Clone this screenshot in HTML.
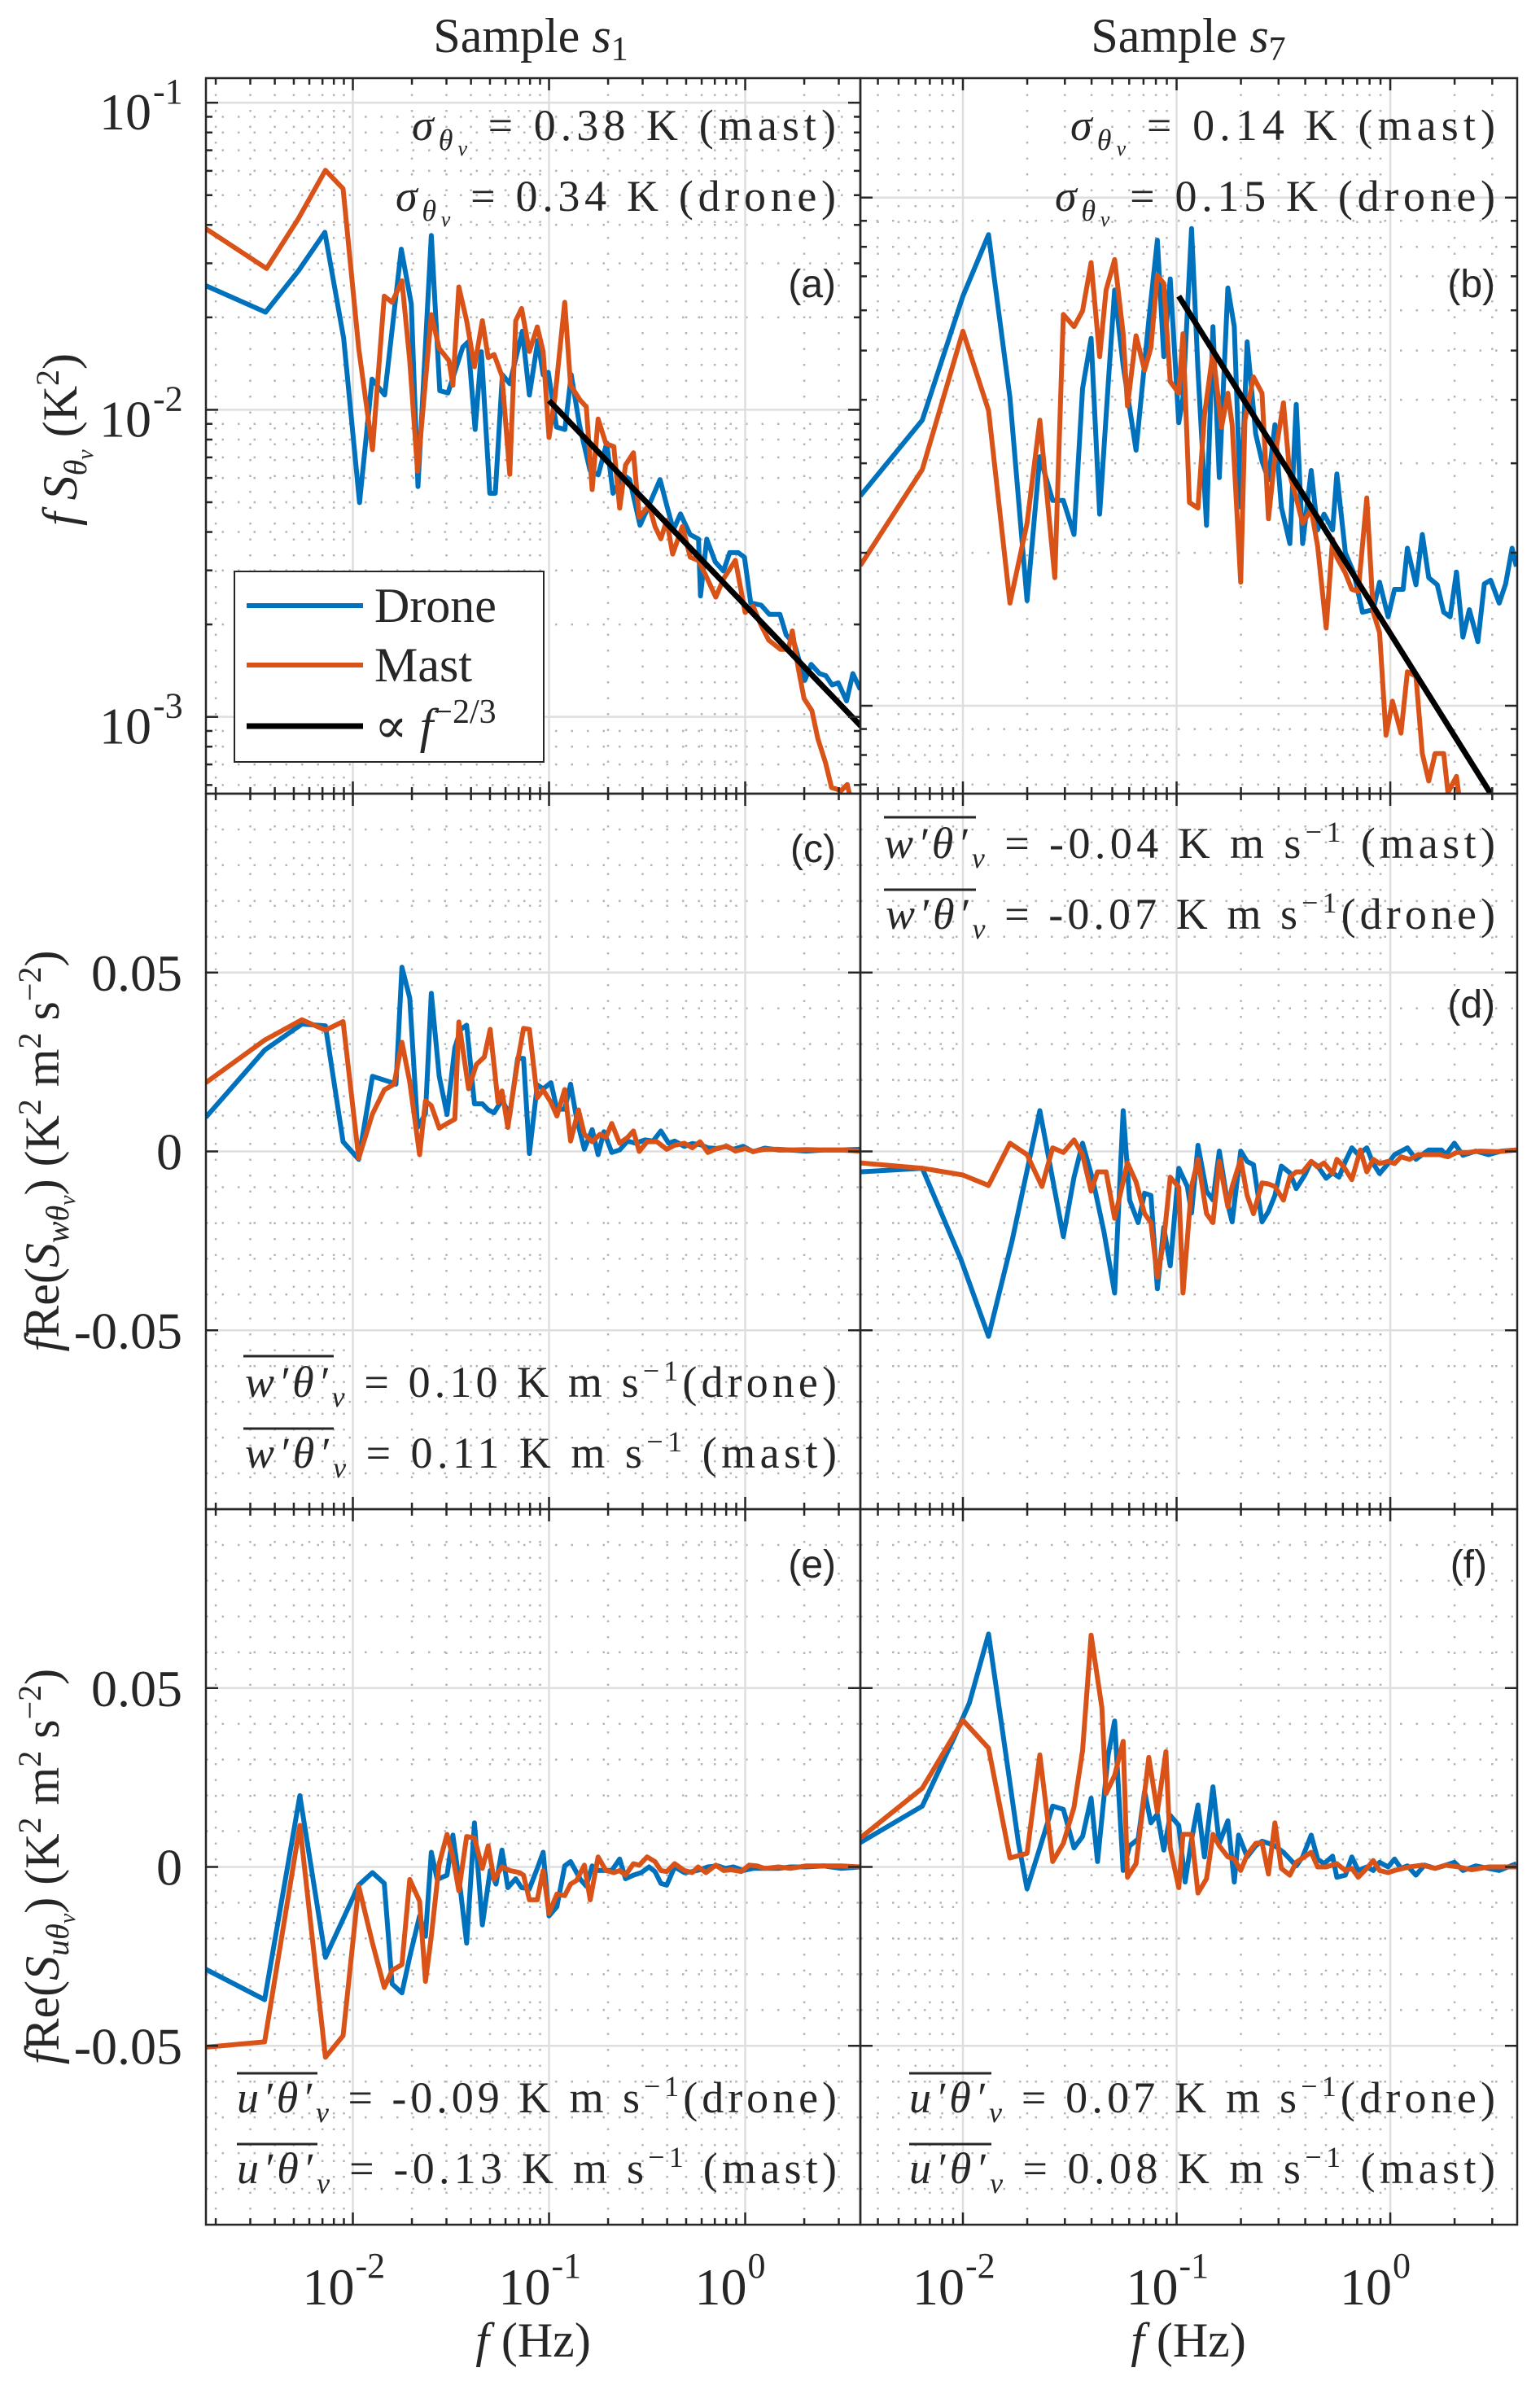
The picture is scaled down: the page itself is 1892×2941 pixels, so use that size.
<!DOCTYPE html>
<html><head><meta charset="utf-8"><style>
html,body{margin:0;padding:0;background:#fff}
svg{display:block}
text{font-family:"Liberation Serif","DejaVu Serif",serif;fill:#262626}
.sans{font-family:"Liberation Sans","DejaVu Sans",sans-serif}
</style></head><body>
<svg id="fig" width="1892" height="2941" viewBox="0 0 1892 2941" xmlns="http://www.w3.org/2000/svg">
<rect x="0" y="0" width="1892" height="2941" fill="#fff"/>
<g id="grids"></g><g id="series"></g><g id="frames"></g><g id="labels"></g>
<text x="652" y="64" font-size="60" text-anchor="middle">Sample <tspan font-style="italic">s</tspan><tspan font-size="42" dy="10">1</tspan></text>
<text x="1460" y="64" font-size="60" text-anchor="middle">Sample <tspan font-style="italic">s</tspan><tspan font-size="42" dy="10">7</tspan></text>
<text transform="translate(94,540) rotate(-90)" font-size="60" text-anchor="middle"><tspan font-style="italic">f S</tspan><tspan font-size="40" font-style="italic" dy="12">θ</tspan><tspan font-size="28" font-style="italic" dy="8">v</tspan><tspan dy="-20">  (K</tspan><tspan font-size="40" dy="-22">2</tspan><tspan dy="22">)</tspan></text>
<text transform="translate(72,1414) rotate(-90)" font-size="60" text-anchor="middle"><tspan font-style="italic">f</tspan>Re(<tspan font-style="italic">S</tspan><tspan font-size="40" font-style="italic" dy="12">wθ</tspan><tspan font-size="28" font-style="italic" dy="8">v</tspan><tspan dy="-20">)  (K</tspan><tspan font-size="40" dy="-22">2</tspan><tspan dy="22"> m</tspan><tspan font-size="40" dy="-22">2</tspan><tspan dy="22"> s</tspan><tspan font-size="40" dy="-22">−2</tspan><tspan dy="22">)</tspan></text>
<text transform="translate(72,2293) rotate(-90)" font-size="60" text-anchor="middle"><tspan font-style="italic">f</tspan>Re(<tspan font-style="italic">S</tspan><tspan font-size="40" font-style="italic" dy="12">uθ</tspan><tspan font-size="28" font-style="italic" dy="8">v</tspan><tspan dy="-20">)  (K</tspan><tspan font-size="40" dy="-22">2</tspan><tspan dy="22"> m</tspan><tspan font-size="40" dy="-22">2</tspan><tspan dy="22"> s</tspan><tspan font-size="40" dy="-22">−2</tspan><tspan dy="22">)</tspan></text>
<text x="655" y="2895" font-size="60" text-anchor="middle"><tspan font-style="italic">f</tspan>  (Hz)</text>
<text x="1460" y="2895" font-size="60" text-anchor="middle"><tspan font-style="italic">f</tspan>  (Hz)</text>

<text x="506" y="172" font-size="54" textLength="521" lengthAdjust="spacing"><tspan font-style="italic">σ</tspan><tspan font-size="36" font-style="italic" dy="12">θ</tspan><tspan font-size="26" font-style="italic" dy="7">v</tspan><tspan dy="-19"> = 0.38 K (mast)</tspan></text>
<text x="486" y="259" font-size="54" textLength="541" lengthAdjust="spacing"><tspan font-style="italic">σ</tspan><tspan font-size="36" font-style="italic" dy="12">θ</tspan><tspan font-size="26" font-style="italic" dy="7">v</tspan><tspan dy="-19"> = 0.34 K (drone)</tspan></text>
<text class="sans" x="1027" y="365" font-size="48" text-anchor="end">(a)</text>
<text x="1315" y="172" font-size="54" textLength="522" lengthAdjust="spacing"><tspan font-style="italic">σ</tspan><tspan font-size="36" font-style="italic" dy="12">θ</tspan><tspan font-size="26" font-style="italic" dy="7">v</tspan><tspan dy="-19"> = 0.14 K (mast)</tspan></text>
<text x="1296" y="259" font-size="54" textLength="541" lengthAdjust="spacing"><tspan font-style="italic">σ</tspan><tspan font-size="36" font-style="italic" dy="12">θ</tspan><tspan font-size="26" font-style="italic" dy="7">v</tspan><tspan dy="-19"> = 0.15 K (drone)</tspan></text>
<text class="sans" x="1837" y="365" font-size="48" text-anchor="end">(b)</text>

<text class="sans" x="1027" y="1059" font-size="48" text-anchor="end">(c)</text>
<text x="301" y="1716" font-size="54" textLength="727" lengthAdjust="spacing"><tspan font-style="italic">w′θ′</tspan><tspan font-size="36" font-style="italic" dy="12">v</tspan><tspan dy="-12"> = 0.10 K m s</tspan><tspan font-size="36" dy="-20">−1</tspan><tspan dy="20">(drone)</tspan></text>
<text x="301" y="1803" font-size="54" textLength="727" lengthAdjust="spacing"><tspan font-style="italic">w′θ′</tspan><tspan font-size="36" font-style="italic" dy="12">v</tspan><tspan dy="-12"> = 0.11 K m s</tspan><tspan font-size="36" dy="-20">−1</tspan><tspan dy="20"> (mast)</tspan></text>
<line x1="299" y1="1666" x2="410" y2="1666" stroke="#262626" stroke-width="3"/>
<line x1="299" y1="1755" x2="410" y2="1755" stroke="#262626" stroke-width="3"/>

<text x="1086" y="1054" font-size="54" textLength="751" lengthAdjust="spacing"><tspan font-style="italic">w′θ′</tspan><tspan font-size="36" font-style="italic" dy="12">v</tspan><tspan dy="-12"> = -0.04 K m s</tspan><tspan font-size="36" dy="-20">−1</tspan><tspan dy="20"> (mast)</tspan></text>
<text x="1088" y="1141" font-size="54" textLength="749" lengthAdjust="spacing"><tspan font-style="italic">w′θ′</tspan><tspan font-size="36" font-style="italic" dy="12">v</tspan><tspan dy="-12"> = -0.07 K m s</tspan><tspan font-size="36" dy="-20">−1</tspan><tspan dy="20">(drone)</tspan></text>
<line x1="1086" y1="1004" x2="1199" y2="1004" stroke="#262626" stroke-width="3"/>
<line x1="1086" y1="1093" x2="1199" y2="1093" stroke="#262626" stroke-width="3"/>
<text class="sans" x="1837" y="1250" font-size="48" text-anchor="end">(d)</text>

<text class="sans" x="1027" y="1938" font-size="48" text-anchor="end">(e)</text>
<text x="291" y="2595" font-size="54" textLength="737" lengthAdjust="spacing"><tspan font-style="italic">u′θ′</tspan><tspan font-size="36" font-style="italic" dy="12">v</tspan><tspan dy="-12"> = -0.09 K m s</tspan><tspan font-size="36" dy="-20">−1</tspan><tspan dy="20">(drone)</tspan></text>
<text x="291" y="2682" font-size="54" textLength="737" lengthAdjust="spacing"><tspan font-style="italic">u′θ′</tspan><tspan font-size="36" font-style="italic" dy="12">v</tspan><tspan dy="-12"> = -0.13 K m s</tspan><tspan font-size="36" dy="-20">−1</tspan><tspan dy="20"> (mast)</tspan></text>
<line x1="291" y1="2547" x2="390" y2="2547" stroke="#262626" stroke-width="3"/>
<line x1="291" y1="2634" x2="390" y2="2634" stroke="#262626" stroke-width="3"/>

<text class="sans" x="1827" y="1938" font-size="48" text-anchor="end">(f)</text>
<text x="1117" y="2595" font-size="54" textLength="720" lengthAdjust="spacing"><tspan font-style="italic">u′θ′</tspan><tspan font-size="36" font-style="italic" dy="12">v</tspan><tspan dy="-12"> = 0.07 K m s</tspan><tspan font-size="36" dy="-20">−1</tspan><tspan dy="20">(drone)</tspan></text>
<text x="1117" y="2682" font-size="54" textLength="720" lengthAdjust="spacing"><tspan font-style="italic">u′θ′</tspan><tspan font-size="36" font-style="italic" dy="12">v</tspan><tspan dy="-12"> = 0.08 K m s</tspan><tspan font-size="36" dy="-20">−1</tspan><tspan dy="20"> (mast)</tspan></text>
<line x1="1117" y1="2547" x2="1218" y2="2547" stroke="#262626" stroke-width="3"/>
<line x1="1117" y1="2634" x2="1218" y2="2634" stroke="#262626" stroke-width="3"/>

<g id="legend">
<rect x="288" y="702" width="380" height="234" fill="#fff" stroke="#262626" stroke-width="2"/>
<line x1="303" y1="744" x2="446" y2="744" stroke="#0072BD" stroke-width="6"/>
<text x="460" y="764" font-size="60">Drone</text>
<line x1="303" y1="817" x2="446" y2="817" stroke="#D95319" stroke-width="6"/>
<text x="460" y="837" font-size="60">Mast</text>
<line x1="303" y1="892" x2="446" y2="892" stroke="#000" stroke-width="7"/>
<text x="460" y="912" font-size="60">∝ <tspan font-style="italic">f</tspan><tspan font-size="42" dy="-24">−2/3</tspan></text>
</g>
</svg>
<script>
// ---- panel (a): log10 frequency (Hz) and log10 f·S (K^2)
const logFreqDroneA=[-2.749,-2.445,-2.277,-2.143,-2.047,-1.966,-1.902,-1.838,-1.753,-1.702,-1.668,-1.600,-1.557,-1.515,-1.440,-1.413,-1.377,-1.345,-1.302,-1.274,-1.238,-1.200,-1.136,-1.100,-1.057,-1.030,-1.004,-0.962,-0.919,-0.887,-0.845,-0.791,-0.749,-0.706,-0.674,-0.621,-0.589,-0.536,-0.494,-0.434,-0.398,-0.366,-0.330,-0.281,-0.238,-0.228,-0.196,-0.153,-0.111,-0.079,-0.036,-0.004,0.028,0.081,0.123,0.177,0.209,0.251,0.304,0.336,0.379,0.411,0.443,0.474,0.517,0.549,0.587];
const logPsdDroneA=[-1.596,-1.682,-1.547,-1.422,-1.767,-2.302,-1.900,-1.952,-1.477,-1.655,-2.250,-1.432,-1.938,-1.945,-1.796,-1.779,-2.064,-1.811,-2.272,-2.272,-1.886,-1.915,-1.744,-1.952,-1.774,-1.886,-1.878,-2.056,-2.064,-1.886,-2.049,-2.198,-2.212,-2.108,-2.272,-2.212,-2.227,-2.376,-2.316,-2.227,-2.316,-2.391,-2.339,-2.406,-2.421,-2.606,-2.421,-2.495,-2.525,-2.465,-2.465,-2.480,-2.629,-2.636,-2.666,-2.666,-2.733,-2.762,-2.881,-2.829,-2.859,-2.866,-2.896,-2.889,-2.948,-2.859,-2.911];
const logFreqMastA=[-2.75,-2.44,-2.28,-2.14,-2.05,-1.97,-1.90,-1.84,-1.80,-1.75,-1.71,-1.67,-1.60,-1.56,-1.51,-1.49,-1.46,-1.42,-1.38,-1.34,-1.31,-1.28,-1.24,-1.20,-1.17,-1.14,-1.10,-1.06,-1.03,-1.00,-0.97,-0.92,-0.89,-0.84,-0.81,-0.78,-0.75,-0.71,-0.67,-0.64,-0.61,-0.57,-0.54,-0.49,-0.46,-0.43,-0.40,-0.37,-0.32,-0.28,-0.24,-0.20,-0.15,-0.11,-0.05,0.00,0.04,0.08,0.12,0.18,0.22,0.24,0.27,0.30,0.34,0.37,0.41,0.44,0.49,0.52,0.55];
const logPsdMastA=[-1.41,-1.54,-1.38,-1.22,-1.28,-1.80,-2.13,-1.63,-1.65,-1.58,-1.84,-2.20,-1.69,-1.80,-1.84,-1.92,-1.60,-1.71,-1.86,-1.71,-1.83,-1.82,-1.89,-2.21,-1.71,-1.67,-1.81,-1.73,-1.81,-2.09,-1.96,-1.65,-1.92,-1.97,-1.99,-2.26,-2.03,-2.11,-2.12,-2.32,-2.18,-2.14,-2.35,-2.31,-2.38,-2.42,-2.36,-2.47,-2.38,-2.48,-2.49,-2.54,-2.61,-2.55,-2.49,-2.66,-2.64,-2.70,-2.75,-2.78,-2.78,-2.72,-2.84,-2.94,-2.98,-3.07,-3.15,-3.23,-3.24,-3.22,-3.30];
const refLogFreqA=[-1.00,0.59];
const refLogPsdA=[-1.97,-3.03];
// ---- panel (b)
const logFreqDroneB=[-2.48,-2.19,-2.00,-1.88,-1.78,-1.70,-1.64,-1.58,-1.53,-1.48,-1.44,-1.40,-1.36,-1.32,-1.29,-1.25,-1.19,-1.13,-1.09,-1.06,-1.03,-0.99,-0.97,-0.93,-0.90,-0.86,-0.83,-0.80,-0.76,-0.73,-0.70,-0.67,-0.63,-0.60,-0.57,-0.54,-0.51,-0.47,-0.44,-0.41,-0.37,-0.34,-0.31,-0.27,-0.25,-0.21,-0.17,-0.13,-0.08,-0.05,-0.01,0.02,0.06,0.08,0.12,0.15,0.18,0.22,0.25,0.28,0.31,0.34,0.37,0.41,0.44,0.47,0.51,0.54,0.57,0.59];
const logPsdDroneB=[-2.587,-2.438,-2.194,-2.073,-2.394,-2.793,-2.510,-2.596,-2.596,-2.663,-2.376,-2.277,-2.623,-2.367,-2.182,-2.331,-2.497,-2.241,-2.084,-2.313,-2.160,-2.443,-2.394,-2.061,-2.340,-2.645,-2.254,-2.551,-2.178,-2.254,-2.609,-2.284,-2.465,-2.519,-2.555,-2.447,-2.609,-2.681,-2.407,-2.681,-2.537,-2.654,-2.623,-2.654,-2.544,-2.699,-2.739,-2.816,-2.811,-2.757,-2.825,-2.771,-2.771,-2.690,-2.762,-2.663,-2.748,-2.762,-2.816,-2.825,-2.737,-2.865,-2.811,-2.874,-2.760,-2.753,-2.798,-2.760,-2.690,-2.726];
const logFreqMastB=[-2.48,-2.19,-2.00,-1.88,-1.78,-1.70,-1.64,-1.57,-1.53,-1.48,-1.44,-1.40,-1.36,-1.33,-1.29,-1.25,-1.23,-1.19,-1.15,-1.12,-1.09,-1.06,-1.03,-0.99,-0.97,-0.94,-0.90,-0.87,-0.83,-0.79,-0.76,-0.74,-0.70,-0.68,-0.64,-0.60,-0.57,-0.54,-0.50,-0.47,-0.44,-0.41,-0.37,-0.34,-0.30,-0.27,-0.25,-0.21,-0.18,-0.15,-0.11,-0.08,-0.05,-0.02,0.01,0.05,0.08,0.12,0.15,0.18,0.21,0.25,0.27,0.31,0.32];
const logPsdMastB=[-2.724,-2.535,-2.263,-2.419,-2.798,-2.641,-2.438,-2.748,-2.230,-2.254,-2.223,-2.128,-2.313,-2.182,-2.122,-2.268,-2.410,-2.272,-2.340,-2.295,-2.153,-2.169,-2.362,-2.385,-2.268,-2.600,-2.611,-2.429,-2.304,-2.452,-2.385,-2.447,-2.757,-2.438,-2.353,-2.385,-2.632,-2.510,-2.404,-2.546,-2.591,-2.641,-2.614,-2.686,-2.847,-2.672,-2.708,-2.739,-2.771,-2.775,-2.591,-2.816,-2.856,-3.058,-2.991,-3.054,-2.933,-2.942,-3.094,-3.148,-3.094,-3.094,-3.171,-3.139,-3.173];
const refLogFreqB=[-0.99,0.47];
const refLogPsdB=[-2.194,-3.173];
// ---- panel (c): f Re(S_w theta)
const logFreqDroneC=[-2.75,-2.45,-2.26,-2.14,-2.05,-1.97,-1.90,-1.81,-1.78,-1.75,-1.71,-1.67,-1.63,-1.60,-1.56,-1.52,-1.48,-1.45,-1.42,-1.38,-1.34,-1.31,-1.28,-1.24,-1.20,-1.16,-1.13,-1.10,-1.06,-1.03,-0.99,-0.96,-0.92,-0.89,-0.86,-0.82,-0.78,-0.75,-0.72,-0.68,-0.64,-0.60,-0.56,-0.51,-0.47,-0.43,-0.39,-0.36,-0.31,-0.27,-0.23,-0.19,-0.14,-0.10,-0.06,-0.01,0.04,0.10,0.17,0.23,0.31,0.40,0.49,0.59];
const cospecDroneC=[0.0095,0.0283,0.0356,0.0351,0.0027,-0.0022,0.0210,0.0194,0.0188,0.0515,0.0429,0.0067,0.0105,0.0442,0.0210,0.0103,0.0290,0.0341,0.0353,0.0133,0.0133,0.0116,0.0108,0.0144,0.0102,0.0260,0.0260,-0.0006,0.0186,0.0175,0.0192,0.0118,0.0118,0.0188,0.0093,0.0006,0.0061,-0.0009,0.0055,-0.0003,0.0004,0.0029,0.0023,0.0032,0.0029,0.0057,0.0023,0.0029,0.0014,0.0022,0.0019,0.0010,0.0008,0.0014,0.0006,0.0014,-0.0001,0.0009,0.0004,0.0004,0.0001,0.0004,0.0004,0.0006];
const logFreqMastC=[-2.75,-2.45,-2.26,-2.14,-2.05,-1.97,-1.90,-1.84,-1.79,-1.75,-1.71,-1.66,-1.63,-1.60,-1.56,-1.52,-1.48,-1.46,-1.41,-1.37,-1.33,-1.30,-1.26,-1.24,-1.21,-1.16,-1.13,-1.10,-1.06,-1.03,-0.99,-0.96,-0.92,-0.89,-0.85,-0.82,-0.78,-0.74,-0.71,-0.68,-0.64,-0.60,-0.57,-0.54,-0.50,-0.45,-0.40,-0.36,-0.31,-0.27,-0.23,-0.19,-0.14,-0.09,-0.05,0.00,0.04,0.10,0.17,0.23,0.31,0.40,0.49,0.59];
const cospecMastC=[0.0192,0.0311,0.0368,0.0339,0.0363,-0.0019,0.0105,0.0172,0.0188,0.0305,0.0194,-0.0009,0.0141,0.0128,0.0065,0.0078,0.0090,0.0362,0.0175,0.0243,0.0264,0.0341,0.0137,0.0169,0.0067,0.0252,0.0344,0.0341,0.0150,0.0172,0.0137,0.0099,0.0173,0.0029,0.0116,0.0048,0.0027,0.0048,0.0039,0.0078,0.0023,0.0039,0.0057,0.0000,0.0027,0.0027,0.0006,0.0017,0.0023,0.0010,0.0027,-0.0003,0.0009,0.0014,0.0001,0.0008,0.0000,0.0006,0.0006,0.0004,0.0005,0.0004,0.0004,0.0001];
// ---- panel (d)
const logFreqDroneD=[-2.48,-2.19,-2.01,-1.88,-1.77,-1.64,-1.53,-1.48,-1.44,-1.39,-1.34,-1.29,-1.25,-1.22,-1.18,-1.15,-1.12,-1.09,-1.06,-1.03,-0.99,-0.95,-0.93,-0.90,-0.86,-0.83,-0.80,-0.76,-0.74,-0.70,-0.67,-0.64,-0.60,-0.57,-0.54,-0.51,-0.47,-0.44,-0.40,-0.37,-0.34,-0.30,-0.27,-0.24,-0.21,-0.18,-0.15,-0.11,-0.08,-0.05,-0.01,0.02,0.08,0.12,0.18,0.24,0.26,0.30,0.34,0.40,0.46,0.52,0.59];
const cospecDroneD=[-0.0057,-0.0047,-0.0301,-0.0517,-0.0250,0.0114,-0.0238,-0.0072,0.0023,-0.0085,-0.0225,-0.0396,0.0114,-0.0136,-0.0199,-0.0117,-0.0123,-0.0384,-0.0212,-0.0320,-0.0047,-0.0098,-0.0172,0.0017,-0.0111,-0.0136,0.0001,-0.0149,-0.0197,0.0001,-0.0028,-0.0037,-0.0197,-0.0168,-0.0123,-0.0041,-0.0060,-0.0104,-0.0066,-0.0028,-0.0041,-0.0075,-0.0060,-0.0072,-0.0028,0.0010,-0.0009,0.0010,-0.0034,-0.0062,-0.0034,-0.0009,0.0010,-0.0022,0.0004,0.0004,-0.0009,0.0023,-0.0011,0.0001,-0.0009,0.0001,0.0004];
const logFreqMastD=[-2.48,-2.19,-2.00,-1.88,-1.78,-1.70,-1.63,-1.58,-1.53,-1.48,-1.44,-1.40,-1.37,-1.33,-1.29,-1.23,-1.19,-1.15,-1.12,-1.09,-1.06,-1.03,-0.99,-0.97,-0.93,-0.90,-0.86,-0.83,-0.80,-0.76,-0.74,-0.70,-0.67,-0.64,-0.60,-0.57,-0.54,-0.50,-0.47,-0.44,-0.41,-0.37,-0.34,-0.31,-0.27,-0.25,-0.22,-0.18,-0.14,-0.11,-0.08,-0.05,-0.01,0.02,0.05,0.09,0.13,0.17,0.23,0.27,0.31,0.36,0.42,0.50,0.59];
const cospecMastD=[-0.0032,-0.0047,-0.0066,-0.0095,0.0023,-0.0009,-0.0098,0.0010,-0.0003,0.0032,-0.0009,-0.0111,-0.0057,-0.0057,-0.0187,-0.0032,-0.0085,-0.0174,-0.0199,-0.0352,-0.0248,-0.0072,-0.0100,-0.0396,-0.0098,-0.0022,-0.0174,-0.0199,-0.0028,-0.0155,-0.0098,-0.0022,-0.0123,-0.0174,-0.0088,-0.0091,-0.0098,-0.0136,-0.0072,-0.0057,-0.0057,-0.0028,-0.0044,-0.0032,-0.0062,-0.0022,-0.0041,-0.0079,0.0004,-0.0057,-0.0022,-0.0034,-0.0028,-0.0034,-0.0015,-0.0022,-0.0009,-0.0009,-0.0009,-0.0015,-0.0003,-0.0003,0.0001,-0.0001,0.0004];
// ---- panel (e): f Re(S_u theta)
const logFreqDroneE=[-2.75,-2.45,-2.41,-2.27,-2.14,-1.97,-1.90,-1.84,-1.80,-1.75,-1.71,-1.66,-1.63,-1.60,-1.57,-1.52,-1.49,-1.45,-1.42,-1.38,-1.34,-1.30,-1.27,-1.24,-1.21,-1.17,-1.14,-1.10,-1.06,-1.03,-1.00,-0.96,-0.92,-0.89,-0.84,-0.81,-0.78,-0.75,-0.71,-0.68,-0.64,-0.61,-0.57,-0.53,-0.49,-0.46,-0.43,-0.40,-0.36,-0.31,-0.27,-0.23,-0.19,-0.14,-0.10,-0.06,-0.01,0.04,0.10,0.17,0.23,0.31,0.40,0.49,0.59];
const cospecDroneE=[-0.0286,-0.0371,-0.0244,0.0199,-0.0253,-0.0051,-0.0016,-0.0046,-0.0327,-0.0352,-0.0251,-0.0137,-0.0194,0.0041,-0.0035,-0.0023,0.0089,-0.0073,-0.0213,0.0123,-0.0162,-0.0010,-0.0048,0.0047,-0.0058,-0.0033,-0.0058,-0.0061,-0.0004,0.0041,-0.0137,-0.0111,0.0003,0.0015,-0.0035,-0.0054,0.0003,-0.0010,-0.0010,-0.0010,0.0022,-0.0033,-0.0023,-0.0016,0.0000,-0.0013,-0.0046,-0.0051,0.0000,-0.0016,-0.0013,-0.0008,0.0000,0.0003,-0.0004,0.0000,-0.0010,-0.0004,-0.0004,-0.0004,0.0000,0.0000,0.0003,-0.0004,0.0000];
const logFreqMastE=[-2.75,-2.45,-2.27,-2.14,-2.05,-1.97,-1.90,-1.84,-1.80,-1.75,-1.71,-1.66,-1.63,-1.60,-1.56,-1.52,-1.49,-1.46,-1.42,-1.38,-1.34,-1.31,-1.28,-1.24,-1.20,-1.15,-1.13,-1.10,-1.06,-1.03,-1.00,-0.96,-0.92,-0.89,-0.86,-0.82,-0.79,-0.75,-0.71,-0.67,-0.64,-0.61,-0.57,-0.54,-0.50,-0.46,-0.43,-0.40,-0.36,-0.31,-0.27,-0.24,-0.20,-0.15,-0.11,-0.07,-0.02,0.02,0.06,0.10,0.17,0.23,0.31,0.40,0.49,0.59];
const cospecMastE=[-0.0504,-0.0489,0.0116,-0.0532,-0.0472,-0.0054,-0.0213,-0.0337,-0.0289,-0.0273,-0.0035,-0.0096,-0.0320,-0.0194,0.0009,0.0091,0.0028,-0.0067,0.0085,0.0081,-0.0004,0.0059,-0.0035,0.0000,-0.0010,-0.0016,-0.0023,-0.0092,-0.0092,-0.0010,-0.0130,-0.0076,-0.0080,-0.0048,-0.0038,0.0005,-0.0092,0.0028,-0.0010,-0.0016,-0.0010,-0.0023,0.0009,0.0005,0.0028,0.0015,-0.0010,-0.0013,0.0009,-0.0010,-0.0016,0.0000,-0.0016,0.0005,-0.0010,-0.0008,-0.0013,0.0005,0.0003,-0.0004,0.0000,-0.0004,0.0003,0.0003,0.0003,0.0000];
// ---- panel (f)
const logFreqDroneF=[-2.48,-2.19,-2.04,-1.97,-1.88,-1.80,-1.74,-1.70,-1.64,-1.58,-1.53,-1.48,-1.44,-1.40,-1.37,-1.32,-1.29,-1.25,-1.22,-1.18,-1.15,-1.12,-1.09,-1.06,-1.03,-0.99,-0.96,-0.93,-0.90,-0.87,-0.83,-0.80,-0.76,-0.73,-0.71,-0.67,-0.63,-0.60,-0.57,-0.54,-0.50,-0.47,-0.44,-0.41,-0.37,-0.34,-0.31,-0.27,-0.25,-0.21,-0.18,-0.15,-0.11,-0.08,-0.05,-0.01,0.02,0.05,0.08,0.12,0.16,0.21,0.25,0.30,0.34,0.40,0.46,0.51,0.59];
const cospecDroneF=[0.0068,0.0170,0.0363,0.0458,0.0651,0.0319,0.0066,-0.0061,0.0053,0.0170,0.0161,0.0053,0.0085,0.0192,0.0015,0.0313,0.0408,-0.0010,0.0059,0.0078,0.0211,0.0123,0.0148,0.0047,0.0144,0.0116,-0.0042,0.0076,0.0173,0.0028,0.0224,0.0066,0.0129,-0.0042,0.0089,0.0028,0.0059,0.0072,0.0066,0.0059,0.0041,0.0022,0.0003,0.0028,0.0089,0.0022,0.0009,0.0030,-0.0029,-0.0023,0.0028,-0.0010,0.0000,-0.0010,0.0013,0.0000,0.0022,-0.0004,0.0003,-0.0023,0.0005,-0.0004,0.0003,0.0013,-0.0010,0.0003,-0.0004,-0.0010,0.0009];
const logFreqMastF=[-2.48,-2.19,-2.00,-1.88,-1.78,-1.70,-1.64,-1.58,-1.53,-1.48,-1.44,-1.40,-1.35,-1.33,-1.29,-1.25,-1.23,-1.19,-1.16,-1.13,-1.09,-1.05,-1.03,-0.99,-0.97,-0.93,-0.90,-0.86,-0.83,-0.80,-0.76,-0.73,-0.70,-0.67,-0.63,-0.60,-0.57,-0.54,-0.51,-0.47,-0.44,-0.37,-0.34,-0.30,-0.25,-0.21,-0.18,-0.15,-0.11,-0.08,-0.05,-0.01,0.02,0.06,0.09,0.15,0.21,0.26,0.32,0.38,0.46,0.52,0.59];
const cospecMastF=[0.0081,0.0220,0.0410,0.0332,0.0025,0.0038,0.0313,0.0015,0.0066,0.0167,0.0325,0.0648,0.0446,0.0205,0.0256,0.0351,-0.0029,0.0009,0.0154,0.0306,0.0154,0.0322,0.0053,-0.0058,0.0091,0.0091,-0.0073,-0.0033,0.0091,0.0059,0.0028,0.0022,-0.0010,0.0034,0.0066,0.0068,-0.0020,0.0123,-0.0004,-0.0023,0.0013,0.0041,0.0000,0.0000,0.0009,-0.0010,-0.0004,-0.0029,-0.0004,0.0018,-0.0010,-0.0016,-0.0010,-0.0004,0.0000,0.0005,-0.0004,0.0005,0.0000,-0.0008,0.0000,0.0000,0.0000];
// ---- tick values
const logXTicks=[-2,-1,0];
const logXTickLabels=['-2','-1','0'];
const logYTicksA=[-1,-2,-3];
const logYTickLabelsA=['-1','-2','-3'];
const logYTicksB=[-2,-3];
const linYTicks=[-0.05,0,0.05];
const linYTickLabels=['-0.05','0','0.05'];

const NS='http://www.w3.org/2000/svg';
const BLUE='#0072BD', ORANGE='#D95319';
const L={x0:253,x1:1057,xr:[-2.749,0.587]}, R={x0:1057,x1:1864,xr:[-2.48,0.594]};
const ROWS=[{y0:96,y1:975},{y0:975,y1:1854},{y0:1854,y1:2733}];
const panels=[
 {id:'a',col:L,row:ROWS[0],log:true,yr:[-3.25,-0.92],yt:logYTicksA,ytl:logYTickLabelsA,s:[[logFreqDroneA,logPsdDroneA,BLUE,'drone'],[logFreqMastA,logPsdMastA,ORANGE,'mast']],ref:[refLogFreqA,refLogPsdA]},
 {id:'b',col:R,row:ROWS[0],log:true,yr:[-3.173,-1.765],yt:logYTicksB,ytl:null,s:[[logFreqDroneB,logPsdDroneB,BLUE,'drone'],[logFreqMastB,logPsdMastB,ORANGE,'mast']],ref:[refLogFreqB,refLogPsdB]},
 {id:'c',col:L,row:ROWS[1],log:false,yr:[-0.1,0.1],yt:linYTicks,ytl:linYTickLabels,s:[[logFreqDroneC,cospecDroneC,BLUE,'drone'],[logFreqMastC,cospecMastC,ORANGE,'mast']]},
 {id:'d',col:R,row:ROWS[1],log:false,yr:[-0.1,0.1],yt:linYTicks,ytl:null,s:[[logFreqDroneD,cospecDroneD,BLUE,'drone'],[logFreqMastD,cospecMastD,ORANGE,'mast']]},
 {id:'e',col:L,row:ROWS[2],log:false,yr:[-0.1,0.1],yt:linYTicks,ytl:linYTickLabels,xl:true,s:[[logFreqDroneE,cospecDroneE,BLUE,'drone'],[logFreqMastE,cospecMastE,ORANGE,'mast']]},
 {id:'f',col:R,row:ROWS[2],log:false,yr:[-0.1,0.1],yt:linYTicks,ytl:null,xl:true,s:[[logFreqDroneF,cospecDroneF,BLUE,'drone'],[logFreqMastF,cospecMastF,ORANGE,'mast']]}
];
const gG=document.getElementById('grids'), gS=document.getElementById('series'), gF=document.getElementById('frames'), gL=document.getElementById('labels');
function mk(tag,attrs,parent){const e=document.createElementNS(NS,tag);for(const k in attrs)e.setAttribute(k,attrs[k]);parent.appendChild(e);return e;}
const defs=mk('defs',{},document.getElementById('fig'));

panels.forEach(p=>{
  const x0=p.col.x0,x1=p.col.x1,y0=p.row.y0,y1=p.row.y1;
  const sx=v=>x0+(v-p.col.xr[0])/(p.col.xr[1]-p.col.xr[0])*(x1-x0);
  const sy=v=>y1-(v-p.yr[0])/(p.yr[1]-p.yr[0])*(y1-y0);
  const cp=mk('clipPath',{id:'clip-'+p.id},defs);
  mk('rect',{x:x0,y:y0,width:x1-x0,height:y1-y0},cp);
  const xMinor=[];
  for(let d=-3;d<=0;d++)for(let m=2;m<=9;m++){const v=d+Math.log10(m);if(v>p.col.xr[0]&&v<p.col.xr[1])xMinor.push(v);}
  const yMinor=[];
  if(p.log){for(let d=-4;d<=-1;d++)for(let m=2;m<=9;m++){const v=d+Math.log10(m);if(v>p.yr[0]&&v<p.yr[1])yMinor.push(v);}}
  else{for(let k=-9;k<=9;k++){if(k%5!==0)yMinor.push(k/100);}}
  const grid=mk('g',{},gG);
  
  
  xMinor.forEach(v=>mk('line',{x1:sx(v),x2:sx(v),y1:y0,y2:y1,stroke:'#b4b4b4','stroke-width':2.5,'stroke-dasharray':'2.5 17'},grid));
  yMinor.forEach(v=>mk('line',{x1:x0,x2:x1,y1:sy(v),y2:sy(v),stroke:'#b4b4b4','stroke-width':2.5,'stroke-dasharray':'2.5 17'},grid));
  logXTicks.forEach(v=>mk('line',{x1:sx(v),x2:sx(v),y1:y0,y2:y1,stroke:'#dedede','stroke-width':2.5},grid));
  p.yt.forEach(v=>mk('line',{x1:x0,x2:x1,y1:sy(v),y2:sy(v),stroke:'#dedede','stroke-width':2.5},grid));
  const sg=mk('g',{'clip-path':'url(#clip-'+p.id+')'},gS);
  p.s.forEach(s=>{
    const n=Math.min(s[0].length,s[1].length);let d='';
    for(let i=0;i<n;i++){d+=(i?'L':'M')+sx(s[0][i]).toFixed(1)+' '+sy(s[1][i]).toFixed(1);}
    const path=mk('path',{d:d,fill:'none',stroke:s[2],'stroke-width':6,'stroke-linejoin':'round'},sg);
    
    
  });
  if(p.ref){
    const r=mk('line',{x1:sx(p.ref[0][0]),y1:sy(p.ref[1][0]),x2:sx(p.ref[0][1]),y2:sy(p.ref[1][1]),stroke:'#000','stroke-width':7},sg);
    
    
  }
  const fr=mk('g',{stroke:'#262626','stroke-width':2.5,fill:'none'},gF);
  
  
  mk('rect',{x:x0,y:y0,width:x1-x0,height:y1-y0},fr);
  xMinor.forEach(v=>{mk('line',{x1:sx(v),x2:sx(v),y1:y1,y2:y1-8},fr);mk('line',{x1:sx(v),x2:sx(v),y1:y0,y2:y0+8},fr);});
  logXTicks.forEach(v=>{mk('line',{x1:sx(v),x2:sx(v),y1:y1,y2:y1-15},fr);mk('line',{x1:sx(v),x2:sx(v),y1:y0,y2:y0+15},fr);});
  if(p.log)yMinor.forEach(v=>{mk('line',{x1:x0,x2:x0+8,y1:sy(v),y2:sy(v)},fr);mk('line',{x1:x1,x2:x1-8,y1:sy(v),y2:sy(v)},fr);});
  p.yt.forEach(v=>{mk('line',{x1:x0,x2:x0+15,y1:sy(v),y2:sy(v)},fr);mk('line',{x1:x1,x2:x1-15,y1:sy(v),y2:sy(v)},fr);});
  if(p.ytl){
    p.yt.forEach((v,i)=>{
      let t;
      if(p.log){
        t=mk('text',{x:186,y:sy(v)+33,'font-size':64,'text-anchor':'end'},gL);
        t.textContent='10';
        const sup=mk('text',{x:188,y:sy(v)+1,'font-size':44},gL);
        sup.textContent=p.ytl[i];
        
        
      } else {
        t=mk('text',{x:224,y:sy(v)+22,'font-size':64,'text-anchor':'end'},gL);
        t.textContent=p.ytl[i];
      }
      
      
    });
  }
  if(p.xl){
    logXTicks.forEach((v,i)=>{
      const t=mk('text',{x:sx(v)+2,y:2831,'font-size':64,'text-anchor':'end'},gL);
      t.textContent='10';
      
      
      const sup=mk('text',{x:sx(v)+3,y:2798,'font-size':44},gL);
      sup.textContent=logXTickLabels[i];
      
      
    });
  }
});
</script>
</body></html>
